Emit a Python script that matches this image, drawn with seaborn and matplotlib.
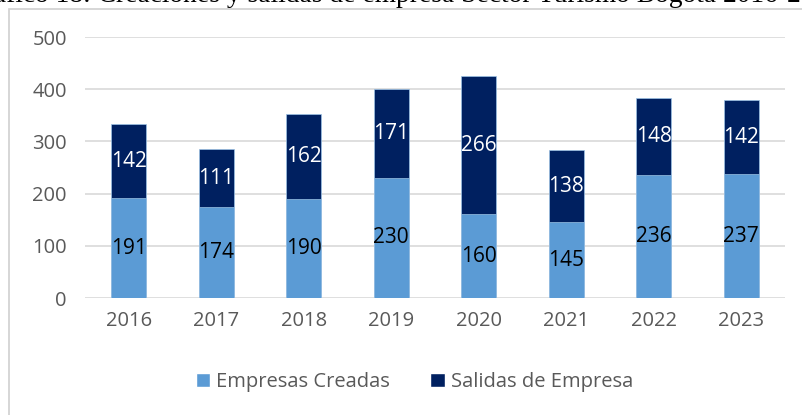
import numpy as np
import pandas as pd
import matplotlib
matplotlib.use("Agg")
import matplotlib.pyplot as plt
import seaborn as sns
from matplotlib.patches import Patch, Rectangle

# ── DATA ─────────────────────────────────────────────────────────────────────
years = ["2016", "2017", "2018", "2019", "2020", "2021", "2022", "2023"]
creadas = [191, 174, 190, 230, 160, 145, 236, 237]
salidas = [142, 111, 162, 171, 266, 138, 148, 142]
title = "Gráfico 18: Creaciones y salidas de empresa Sector Turismo Bogotá 2016-2023"

C_LIGHT = "#5B9BD5"
C_DARK = "#002060"
GRID = "#D9D9D9"
TXT = "#595959"

df = pd.DataFrame({"year": years, "creadas": creadas, "salidas": salidas})
df["total"] = df["creadas"] + df["salidas"]

sns.set_theme(style="white")
plt.rcParams["font.family"] = ["Open Sans", "DejaVu Sans"]

fig = plt.figure(figsize=(8.03, 4.15), dpi=100)
ax = fig.add_axes([85 / 803, 1 - 298 / 415, 700 / 803, 261 / 415])

# stacked: totals in dark, created on top in light
sns.barplot(data=df, x="year", y="total", color=C_DARK, saturation=1,
            width=0.4, edgecolor="#9DC3E6", linewidth=0.5, ax=ax, zorder=3)
sns.barplot(data=df, x="year", y="creadas", color=C_LIGHT, saturation=1,
            width=0.4, edgecolor="#9DC3E6", linewidth=0.5, ax=ax, zorder=3)

for i, row in df.iterrows():
    ax.text(i, row["creadas"] / 2, str(row["creadas"]), ha="center", va="center",
            fontsize=15, color="black", zorder=4)
    ax.text(i, row["creadas"] + row["salidas"] / 2, str(row["salidas"]),
            ha="center", va="center", fontsize=15, color="white", zorder=4)

ax.set_ylim(0, 500)
ax.set_xlim(-0.5, 7.5)
ax.set_yticks(range(0, 501, 100))
ax.yaxis.grid(True, color=GRID, linewidth=1.2, zorder=0)
ax.set_axisbelow(True)
for s in ax.spines.values():
    s.set_visible(False)
ax.tick_params(axis="both", length=0, labelsize=14.5, colors=TXT, pad=9)
ax.tick_params(axis="y", pad=13)
ax.set_xlabel("")
ax.set_ylabel("")

handles = [Patch(facecolor=C_LIGHT, label="Empresas Creadas"),
           Patch(facecolor=C_DARK, label="Salidas de Empresa")]
fig.legend(handles=handles, loc="center", bbox_to_anchor=(0.5 + 13 / 803, 1 - 382 / 415),
           ncol=2, frameon=False, fontsize=14.5, labelcolor=TXT,
           handlelength=0.7, handleheight=0.7, handletextpad=0.3, columnspacing=2.0)

# chart frame (extends past right/bottom edges)
fig.patches.append(Rectangle((9 / 803, -0.2), 1.2, 1.2 - 9 / 415, transform=fig.transFigure,
                             fill=False, edgecolor="#D0D0D0", linewidth=1.2))

# clipped caption at the top
fig.text(0.5 + 2 / 803, 1 - 2 / 415, title, ha="center", va="baseline",
         fontsize=19.8, family="Liberation Serif", color="black")

fig.savefig("out.png", dpi=100)
